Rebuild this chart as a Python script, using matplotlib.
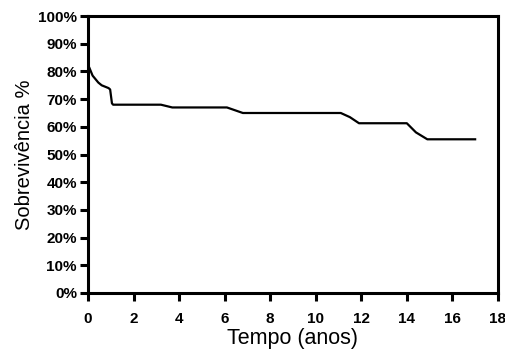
import matplotlib
matplotlib.use('Agg')
import matplotlib.pyplot as plt
from matplotlib.ticker import MultipleLocator, FuncFormatter

# Survival curve
tempo = [0, 0.05, 0.2, 0.45, 0.6, 0.9, 0.97, 1.05, 1.1, 3.2, 3.7, 6.1, 6.8,
         11.1, 11.5, 11.9, 14.0, 14.4, 14.9, 17.0]
sobrevivencia = [81.5, 81.5, 78.5, 76, 75, 74, 73.5, 68.5, 68, 68, 67, 67, 65,
                 65, 63.5, 61.3, 61.3, 58, 55.5, 55.5]

plt.rcParams['font.family'] = ['Liberation Sans', 'DejaVu Sans']

fig = plt.figure(figsize=(5.06, 3.5), dpi=100)
ax = fig.add_axes([0.174, 0.163, 0.81, 0.791])

ax.plot(tempo, sobrevivencia, color='black', linewidth=1.6)

ax.set_xlim(0, 18)
ax.set_ylim(0, 100)
ax.xaxis.set_major_locator(MultipleLocator(2))
ax.yaxis.set_major_locator(MultipleLocator(10))
ax.yaxis.set_major_formatter(FuncFormatter(lambda v, p: f'{v:.0f}%'))

for side in ['left', 'right', 'top', 'bottom']:
    ax.spines[side].set_linewidth(2.2)

ax.tick_params(axis='both', direction='out', length=6, width=2.2,
               labelsize=11, pad=2)
for lbl in ax.get_xticklabels() + ax.get_yticklabels():
    lbl.set_fontweight('bold')
ax.tick_params(axis='x', pad=8)

ax.set_xlabel('Tempo (anos)', fontsize=15.5, labelpad=1)
ax.set_ylabel('Sobrevivência %', fontsize=14.5, labelpad=3)

fig.savefig('out.png', dpi=100)
